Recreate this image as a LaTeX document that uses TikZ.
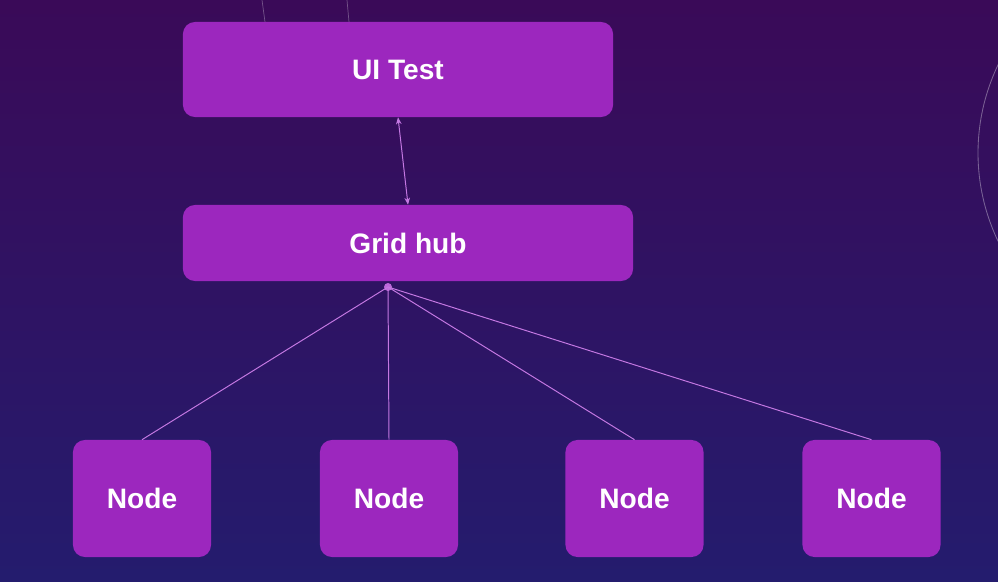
\documentclass[tikz,border=0pt]{standalone}
\usepackage{fontspec}
\setmainfont{Liberation Sans}
\usepackage{tikz}
\usetikzlibrary{arrows.meta,positioning,calc}

\definecolor{bgtop}{RGB}{58,10,88}
\definecolor{bgbot}{RGB}{36,28,110}
\definecolor{boxpurple}{RGB}{156,39,190}
\definecolor{linepurple}{RGB}{196,120,226}

\tikzset{
  box/.style={draw=none,fill=boxpurple,rounded corners=0.3cm,text=white,
    font=\bfseries\fontsize{20}{22}\selectfont,inner sep=0pt},
  link/.style={linepurple,line width=0.7pt}
}

\begin{document}
\begin{tikzpicture}[x=0.025cm,y=-0.025cm]
  % 背景(グラデーション)
  \fill[top color=bgtop,bottom color=bgbot] (0,0) rectangle (998,582);
  \useasboundingbox (0,0) rectangle (998,582);
  % 背景の飾りの線
  \draw[white,opacity=0.3,line width=0.5pt] (262,0) -- (265,22);
  \draw[white,opacity=0.3,line width=0.5pt] (347,0) -- (349,22);
  \draw[white,opacity=0.35,line width=0.6pt] (1182,153) ++(152:204) arc[start angle=152,end angle=208,radius=204];
  % 上段の箱
  \node[box,minimum width=10.75cm,minimum height=2.375cm] (uitest) at (398,69.5) {UI Test};
  \node[box,minimum width=11.25cm,minimum height=1.9cm] (hub) at (408,243) {Grid hub};
  % 下段のノード(4つ)
  \foreach \nx/\nm in {142/n1,389/n2,634.5/n3,871.5/n4}{
    \node[box,minimum width=3.45cm,minimum height=2.925cm] (\nm) at (\nx,498.5) {Node};
  }
  % 接続線
  \draw[link,{Stealth[length=5pt,width=4pt]}-{Stealth[length=5pt,width=4pt]}] (uitest.south) -- (hub.north);
  \coordinate (hb) at (388,287);
  \fill[linepurple!80!boxpurple] (hb) circle (4);
  \foreach \nm in {n1,n2,n3,n4}{\draw[link] (hb) -- (\nm.north);}
\end{tikzpicture}
\end{document}
